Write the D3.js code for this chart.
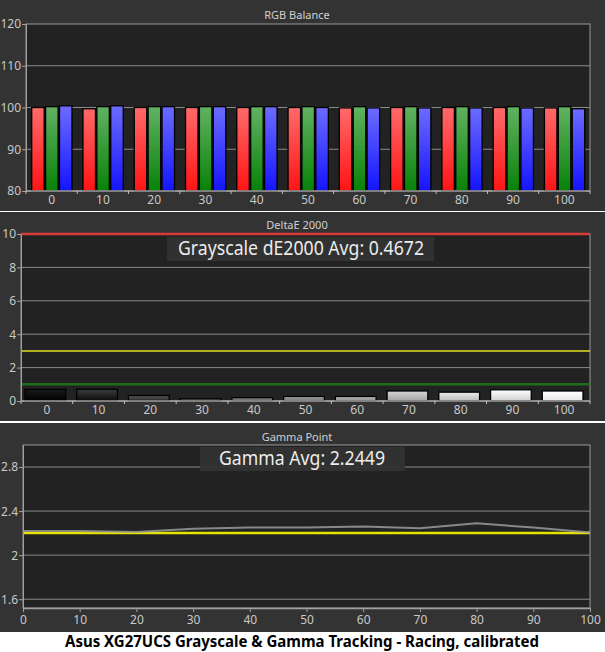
<!DOCTYPE html>
<html>
<head>
<meta charset="utf-8">
<title>Grayscale & Gamma Tracking</title>
<script src="https://d3js.org/d3.v7.min.js"></script>
<style>
  body { margin:0; background:#fff; }
  svg { display:block; }
  text { font-family: "Noto Sans", "DejaVu Sans", sans-serif; }
  .tick text { fill:#c8c8c8; font-size:12px; }
  .tick line, .domain { stroke:#a0a0a0; }
</style>
</head>
<body>
<svg id="chart" width="605" height="652"></svg>
<script>
"use strict";

// ---- data ----
const levels = [0, 10, 20, 30, 40, 50, 60, 70, 80, 90, 100];
const redBal   = [100.0, 99.7, 100.0, 100.0, 100.0, 100.0, 99.9, 100.0, 100.0, 100.0, 99.9];
const greenBal = [100.2, 100.2, 100.2, 100.2, 100.2, 100.2, 100.2, 100.2, 100.2, 100.2, 100.2];
const blueBal  = [100.4, 100.4, 100.2, 100.2, 100.2, 100.0, 99.9, 99.9, 99.9, 99.9, 99.7];
const deltaE   = [0.70, 0.70, 0.33, 0.13, 0.20, 0.27, 0.27, 0.60, 0.53, 0.67, 0.60];
const gammaPts = [2.22, 2.22, 2.21, 2.24, 2.25, 2.25, 2.26, 2.245, 2.29, 2.25, 2.205];
const gammaTarget = 2.2;
const rgbTicks = [80, 90, 100, 110, 120];
const deTicks = [0, 2, 4, 6, 8, 10];
const gammaTicks = [1.6, 2, 2.4, 2.8];
const deLimits = [{v: 10, c: "#d83a3a"}, {v: 3, c: "#e0e020"}, {v: 1, c: "#1c6e1c"}];
const deAvgLabel = "Grayscale dE2000 Avg: 0.4672";
const gammaAvgLabel = "Gamma Avg: 2.2449";
const caption = "Asus XG27UCS Grayscale & Gamma Tracking - Racing, calibrated";

const svg = d3.select("#chart");
const defs = svg.append("defs");

function vGrad(id, top, bottom) {
  const g = defs.append("linearGradient").attr("id", id)
    .attr("x1", 0).attr("y1", 0).attr("x2", 0).attr("y2", 1);
  g.append("stop").attr("offset", "0%").attr("stop-color", top);
  g.append("stop").attr("offset", "100%").attr("stop-color", bottom);
}
vGrad("gR", "#ff6a6a", "#ff1414");
vGrad("gG", "#62b262", "#078207");
vGrad("gB", "#6c6cff", "#1414ff");

// panel backgrounds
const panels = [[0, 211], [212, 421], [423, 632]];
panels.forEach(p => {
  svg.append("rect").attr("x", 0).attr("y", p[0]).attr("width", 605)
    .attr("height", p[1] - p[0]).attr("fill", "#333333");
});

function title(txt, x, y) {
  svg.append("text").attr("x", x).attr("y", y).attr("text-anchor", "middle")
    .attr("fill", "#d0d0d0").attr("font-size", 11).text(txt);
}

function plotArea(l, r, t, b) {
  svg.append("rect").attr("x", l).attr("y", t).attr("width", r - l).attr("height", b - t)
    .attr("fill", "#222222").attr("stroke", "#9a9a9a").attr("stroke-width", 1);
}

function grid(y, vals, l, r, color) {
  svg.append("g").selectAll("line").data(vals).join("line")
    .attr("x1", l).attr("x2", r)
    .attr("y1", d => y(d)).attr("y2", d => y(d))
    .attr("stroke", color || "#8a8a8a").attr("stroke-width", 1);
}

function bandAxis(x, yPos, labelY) {
  const g = svg.append("g");
  const edges = levels.map(d => x(d)).concat([x.range()[1]]);
  g.append("line").attr("x1", x.range()[0]).attr("x2", x.range()[1])
    .attr("y1", yPos).attr("y2", yPos).attr("stroke", "#a0a0a0").attr("stroke-width", 1.5);
  g.selectAll("line.tk").data(edges).join("line").attr("class", "tk")
    .attr("x1", d => d).attr("x2", d => d).attr("y1", yPos).attr("y2", yPos + 3)
    .attr("stroke", "#c0c0c0");
  g.selectAll("text").data(levels).join("text")
    .attr("x", d => x(d) + x.bandwidth() / 2).attr("y", labelY)
    .attr("text-anchor", "middle").attr("fill", "#c8c8c8").attr("font-size", 12)
    .text(d => d);
}

function leftAxis(y, x0, vals) {
  const g = svg.append("g").attr("transform", `translate(${x0},0)`)
    .call(d3.axisLeft(y).tickValues(vals).tickFormat(d => String(d)).tickSize(4).tickSizeOuter(0));
  g.select(".domain").attr("stroke", "#a0a0a0");
  g.selectAll(".tick text").attr("dx", 2).attr("dy", "0.33em");
}

function avgBox(x0, x1, y0, y1, tx, tw, txt) {
  svg.append("rect").attr("x", x0).attr("y", y0).attr("width", x1 - x0).attr("height", y1 - y0)
    .attr("fill", "#333333").attr("fill-opacity", 0.95);
  svg.append("text").attr("x", tx).attr("y", y1 - 6.5)
    .attr("fill", "#ececec").attr("font-size", 19)
    .attr("textLength", tw).attr("lengthAdjust", "spacingAndGlyphs").text(txt);
}

// ---- Panel 1: RGB Balance ----
{
  const L = 26, R = 590, T = 24, B = 191;
  title("RGB Balance", 297, 19);
  plotArea(L, R, T, B);
  const x = d3.scaleBand().domain(levels).range([L, R]).padding(0);
  const y = d3.scaleLinear().domain([80, 120]).range([B, T]);
  grid(y, [90, 100, 110], L, R);
  const xs = d3.scaleBand().domain(["r", "g", "b"])
    .range([5.7, x.bandwidth() - 5.3]).paddingInner(0.1);
  const rows = levels.map((lv, i) => ({lv, vals: [
    {k: "r", v: redBal[i], f: "url(#gR)"},
    {k: "g", v: greenBal[i], f: "url(#gG)"},
    {k: "b", v: blueBal[i], f: "url(#gB)"}]}));
  svg.append("g").selectAll("g").data(rows).join("g")
    .attr("transform", d => `translate(${x(d.lv)},0)`)
    .selectAll("rect").data(d => d.vals).join("rect")
    .attr("x", d => xs(d.k)).attr("width", xs.bandwidth())
    .attr("y", d => y(d.v)).attr("height", d => y(80) - y(d.v))
    .attr("fill", d => d.f).attr("stroke", "#000").attr("stroke-width", 1.3);
  leftAxis(y, L, rgbTicks);
  bandAxis(x, B, 204);
}

// ---- Panel 2: DeltaE 2000 ----
{
  const L = 21, R = 590, T = 234, B = 401;
  title("DeltaE 2000", 297, 229);
  plotArea(L, R, T, B);
  const x = d3.scaleBand().domain(levels).range([L, R]).padding(0);
  const y = d3.scaleLinear().domain([0, 10]).range([B, T]);
  grid(y, [2, 4, 6, 8], L, R, "#8a8a8a");
  deltaE.forEach((v, i) => {
    const g = Math.round(255 * Math.pow(levels[i] / 100, 0.85));
    const top = d3.rgb(Math.min(255, g + 25), Math.min(255, g + 25), Math.min(255, g + 25));
    const bot = d3.rgb(Math.max(0, g - 25), Math.max(0, g - 25), Math.max(0, g - 25));
    vGrad("gk" + i, top.formatHex(), bot.formatHex());
  });
  const pad = 4;
  svg.append("g").selectAll("rect").data(deltaE).join("rect")
    .attr("x", (d, i) => x(levels[i]) + pad).attr("width", x.bandwidth() - pad * 2 - 3)
    .attr("y", d => y(d)).attr("height", d => y(0) - y(d))
    .attr("fill", (d, i) => `url(#gk${i})`).attr("stroke", "#000").attr("stroke-width", 1.3);
  svg.append("g").selectAll("line").data(deLimits).join("line")
    .attr("x1", L).attr("x2", R).attr("y1", d => y(d.v)).attr("y2", d => y(d.v))
    .attr("stroke", d => d.c).attr("stroke-width", d => d.v === 3 ? 1.5 : 2.5);
  leftAxis(y, L, deTicks);
  bandAxis(x, B, 414);
  avgBox(167, 434, 237, 261, 178, 246, deAvgLabel);
}

// ---- Panel 3: Gamma Point ----
{
  const L = 23, R = 590, T = 445, B = 608;
  title("Gamma Point", 297, 441);
  plotArea(L, R, T, B);
  const x = d3.scaleLinear().domain([0, 100]).range([L, R]);
  const y = d3.scaleLinear().domain([1.52, 3.0]).range([B, T]);
  grid(y, gammaTicks, L, R);
  svg.append("line").attr("x1", x(0)).attr("x2", x(100))
    .attr("y1", y(gammaTarget)).attr("y2", y(gammaTarget))
    .attr("stroke", "#e4e400").attr("stroke-width", 2.5);
  svg.append("path").datum(gammaPts)
    .attr("fill", "none").attr("stroke", "#9a9a9a").attr("stroke-width", 2)
    .attr("stroke-opacity", 0.85)
    .attr("d", d3.line().x((d, i) => x(levels[i])).y(d => y(d)));
  leftAxis(y, L, gammaTicks);
  const ax = svg.append("g").attr("transform", `translate(0,${B})`)
    .call(d3.axisBottom(x).tickValues(levels).tickSize(4).tickSizeOuter(0));
  ax.select(".domain").attr("stroke", "#a0a0a0").attr("stroke-width", 1.5);
  ax.selectAll(".tick text").attr("y", 5).attr("dy", "0.9em");
  avgBox(200, 405, 447, 471, 219, 166, gammaAvgLabel);
}

// caption
svg.append("text").attr("x", 302).attr("y", 647).attr("text-anchor", "middle")
  .attr("fill", "#000").attr("font-size", 16).attr("font-weight", "bold")
  .attr("textLength", 474).attr("lengthAdjust", "spacingAndGlyphs")
  .text(caption);
</script>
</body>
</html>
